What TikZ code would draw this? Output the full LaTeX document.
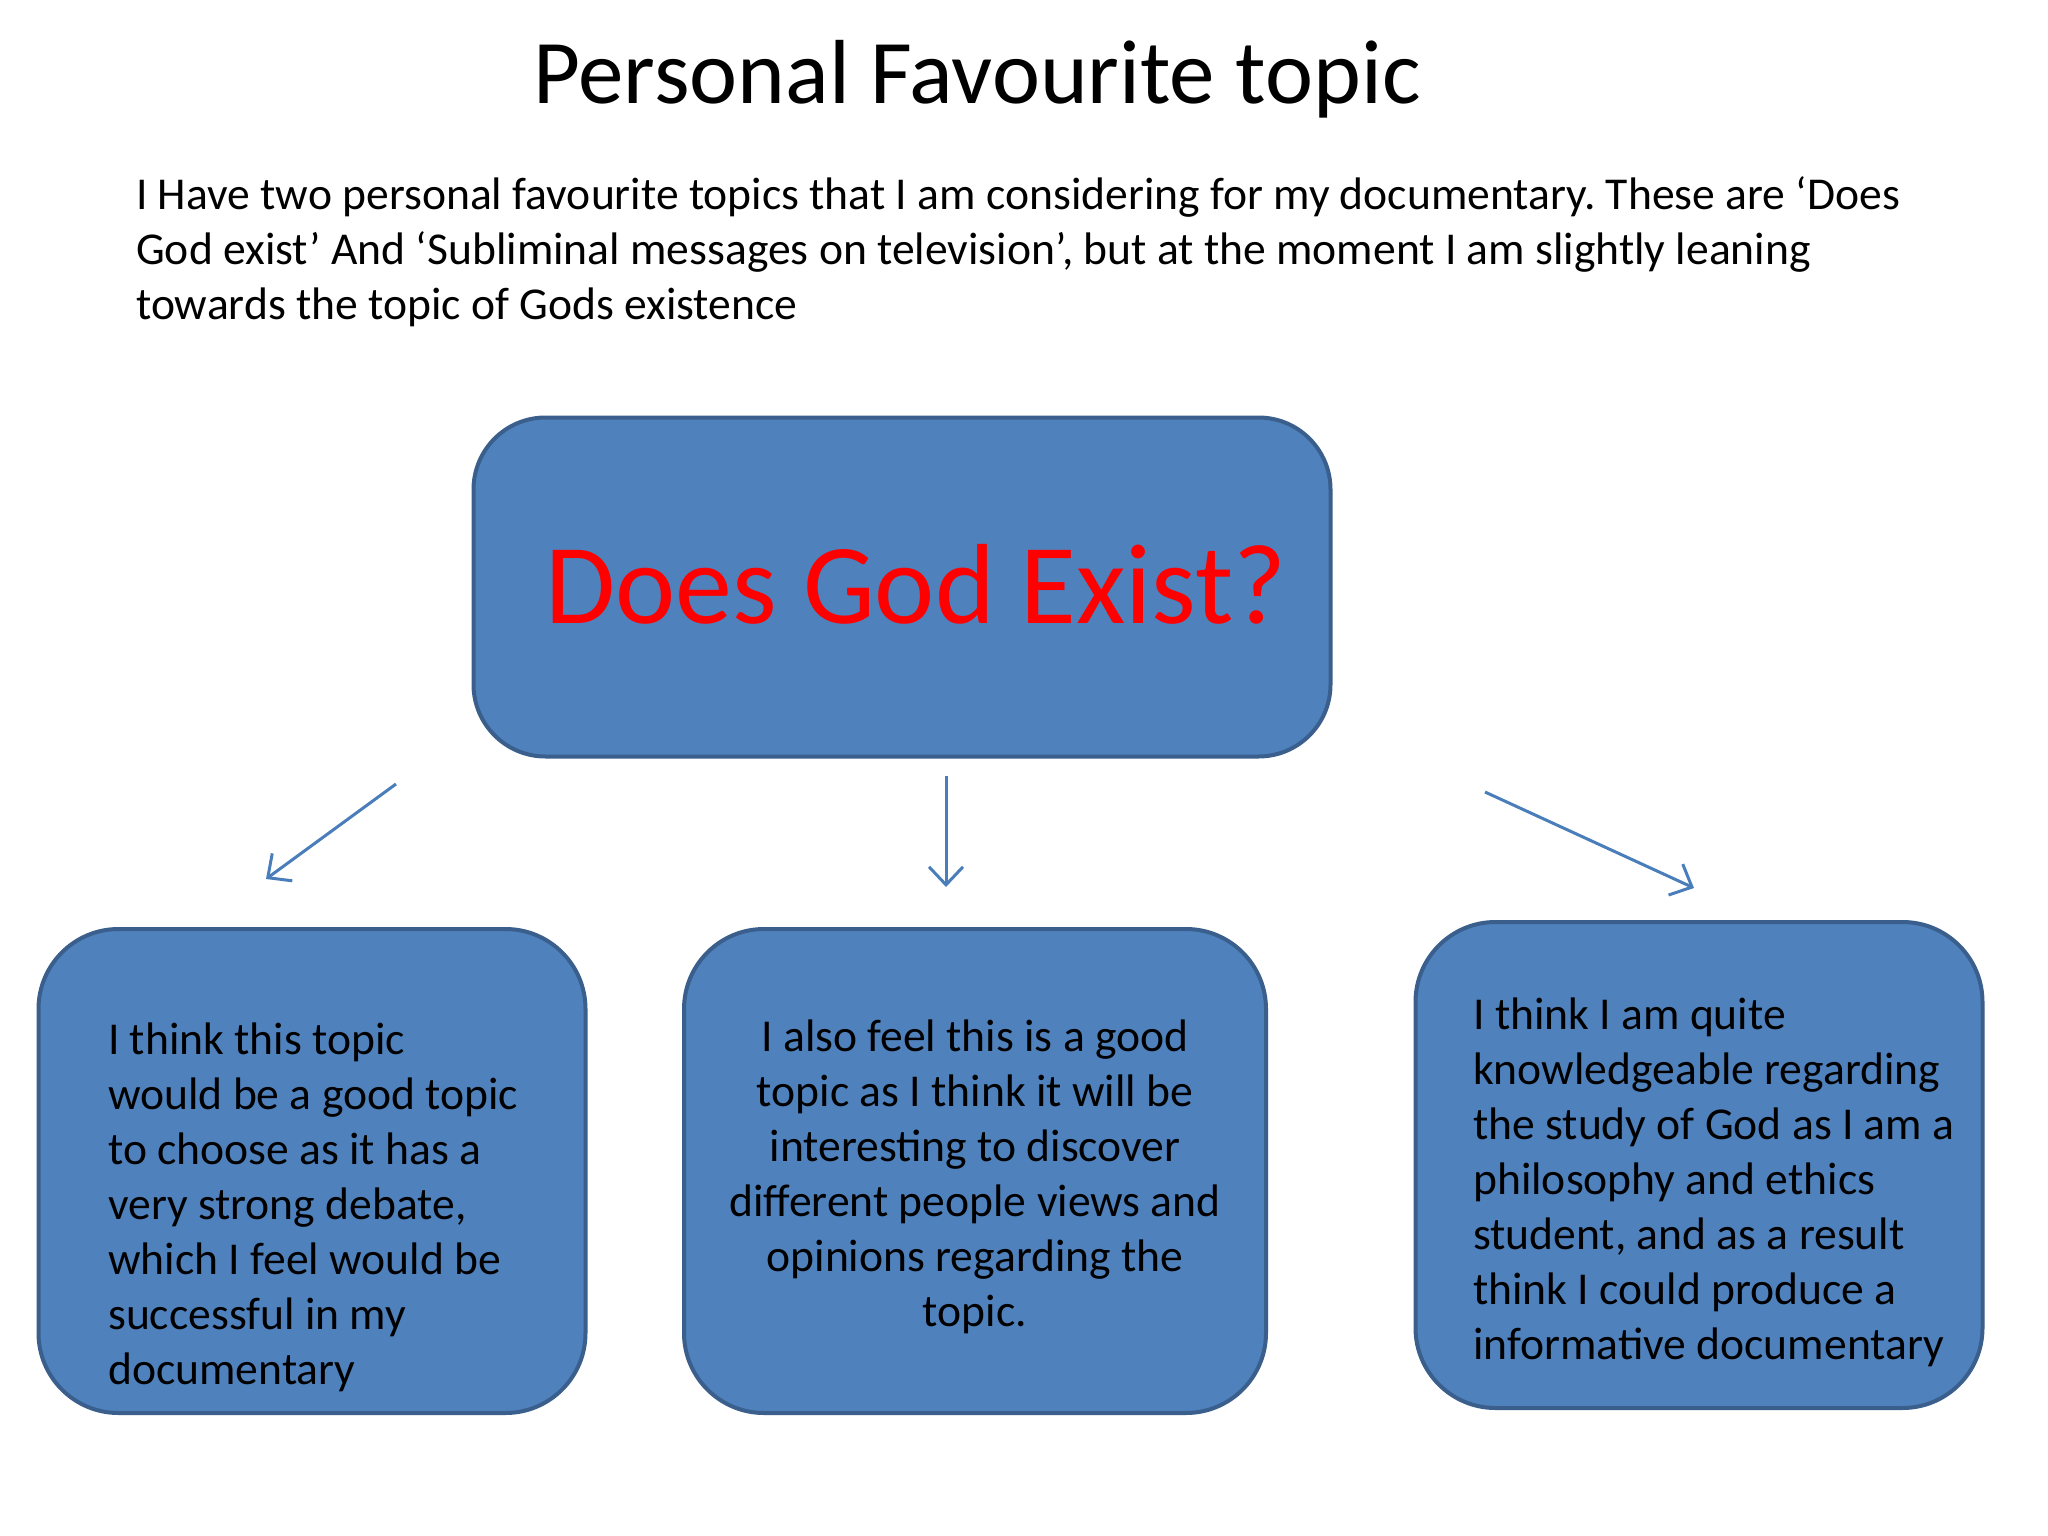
\documentclass[tikz,border=0pt]{standalone}
\usepackage{fontspec}
\setmainfont{Carlito}
\usetikzlibrary{arrows.meta}
\definecolor{boxfill}{HTML}{4F81BD}
\definecolor{boxdraw}{HTML}{3A5F8C}
\definecolor{arrowc}{HTML}{4A7EBB}
\definecolor{godred}{HTML}{FF0000}
\frenchspacing
\begin{document}
\begin{tikzpicture}[x=1pt,y=-1pt,
  bluebox/.style={draw=boxdraw, fill=boxfill, line width=4pt, rounded corners=72pt, inner sep=0pt},
  body/.style={font=\fontsize{45.6}{55}\selectfont, inner sep=0pt},
  conn/.style={draw=arrowc, line width=3pt, -{Straight Barb[length=18pt,width=34pt,line width=3pt]}}]
\useasboundingbox (0,0) rectangle (2048,1536);
\fill[white] (0,0) rectangle (2048,1536);
% title
\node[font=\fontsize{91}{110}\selectfont, inner sep=0pt, anchor=base] (title) at (977,104) {Personal Favourite topic};
% intro paragraph
\node[body, anchor=base west] (p1) at (136,209) {I Have two personal favourite topics that I am considering for my documentary. These are ‘Does};
\node[body, anchor=base west] (p2) at (136,264) {God exist’ And ‘Subliminal messages on television’, but at the moment I am slightly leaning};
\node[body, anchor=base west] (p3) at (136,319) {towards the topic of Gods existence};
% main box
\node[bluebox, minimum width=857pt, minimum height=339pt, rounded corners=72pt] (main) at (902,587) {};
\node[font=\fontsize{114}{140}\selectfont, text=godred, inner sep=0pt, anchor=base] (q) at (916,623) {Does God Exist?};
% bottom boxes
\node[bluebox, minimum width=547pt, minimum height=484pt, rounded corners=80pt] (left) at (312,1171) {};
\node[bluebox, minimum width=582pt, minimum height=484pt, rounded corners=80pt] (mid) at (975,1171) {};
\node[bluebox, minimum width=567pt, minimum height=486pt, rounded corners=80pt] (right) at (1699,1165) {};
\node[body, anchor=north west, align=left] (lt) at (108,1023) {I think this topic\\would be a good topic\\to choose as it has a\\very strong debate,\\which I feel would be\\successful in my\\documentary};
\node[body, anchor=north, align=center] (mt) at (975,1020) {I also feel this is a good\\topic as I think it will be\\interesting to discover\\different people views and\\opinions regarding the\\topic.};
\node[body, anchor=north west, align=left] (rt) at (1473,998) {I think I am quite\\knowledgeable regarding\\the study of God as I am a\\philosophy and ethics\\student, and as a result\\think I could produce a\\informative documentary};
% arrows
\coordinate (a1s) at (396,784);
\coordinate (a1e) at (266,879);
\coordinate (a2s) at (946,776);
\coordinate (a2e) at (946,887);
\coordinate (a3s) at (1485,792);
\coordinate (a3e) at (1694,888);
\draw[conn] (a1s) -- (a1e);
\draw[conn] (a2s) -- (a2e);
\draw[conn] (a3s) -- (a3e);
\end{tikzpicture}
\end{document}
